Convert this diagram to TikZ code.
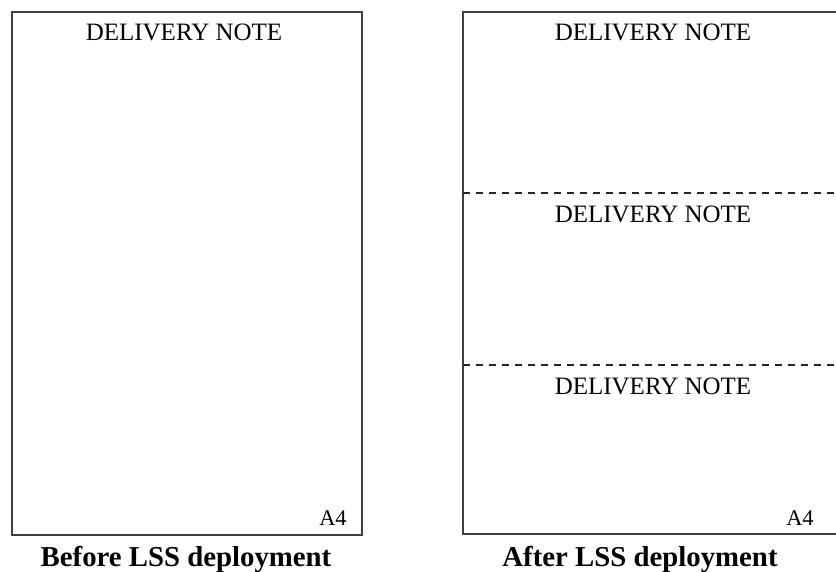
\documentclass[tikz,border=0pt]{standalone}
\usepackage{fontspec}
\setmainfont{Liberation Serif}
\usepackage{tikz}

\tikzset{
  sheet/.style={draw=black!75, line width=1pt},
  cut/.style={draw=black!85, dashed, dash pattern=on 3.5pt off 3pt, line width=0.8pt},
  title/.style={font=\fontsize{12.5}{14}\selectfont, inner sep=0pt},
  paper/.style={font=\fontsize{11.2}{13}\selectfont, inner sep=0pt},
  caption/.style={font=\fontsize{14.4}{16}\selectfont\bfseries, inner sep=0pt}
}

\begin{document}
\begin{tikzpicture}[x=0.5pt, y=-0.5pt]
  		\useasboundingbox (0,0) rectangle (836,572);
  		% before: one note on the whole A4 sheet
  		\draw[sheet] (12,12) rectangle (362,535);
  		\node[title] (noteL) at (184,32) {DELIVERY NOTE};
  		\node[paper] (aL) at (333,518) {A4};
  		\node[caption] (capL) at (186,559) {Before LSS deployment};
  		% after: three notes on one sheet
  		\draw[sheet] (836,12) -- (463,12) -- (463,534) -- (836,534);
  		\draw[cut] (463,193) -- (836,193);
  		\draw[cut] (463,365) -- (836,365);
  		\node[title] (noteA) at (653,32) {DELIVERY NOTE};
  		\node[title] (noteB) at (653,214) {DELIVERY NOTE};
  		\node[title] (noteC) at (653,386) {DELIVERY NOTE};
  		\node[paper] (aR) at (800,518) {A4};
  		\node[caption] (capR) at (640,559) {After LSS deployment};
\end{tikzpicture}
\end{document}
